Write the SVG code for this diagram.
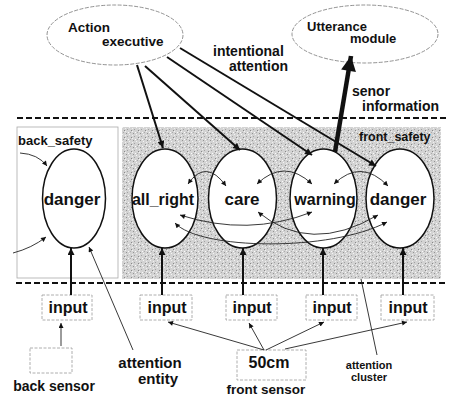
<svg xmlns="http://www.w3.org/2000/svg" width="449" height="399" viewBox="0 0 449 399">
<style>
text{font-family:"Liberation Sans",Arial,Helvetica,sans-serif;font-weight:bold;fill:#111}
.lbl{font-size:14px}
.nl{font-size:17px;text-anchor:middle}
.inp{font-size:16px;text-anchor:middle}
.box{fill:#fff;stroke:#9a9a9a;stroke-width:0.8;stroke-dasharray:3 1.5}
.top{fill:#fff;stroke:#777;stroke-width:0.8;stroke-dasharray:4 1.5}
.st{fill:#fff;stroke:#111;stroke-width:1.5}
.dash{stroke:#111;stroke-width:2;stroke-dasharray:6 3;fill:none}
.med{stroke:#111;stroke-width:2;fill:none}
.thin{stroke:#222;stroke-width:0.9;fill:none}
</style>
<defs>
<pattern id="stip" width="7" height="7" patternUnits="userSpaceOnUse">
<rect width="7" height="7" fill="#d3d3d3"/>
<rect x="0" y="0" width="1" height="1" fill="#929292"/>
<rect x="3" y="1" width="1" height="1" fill="#f4f4f4"/>
<rect x="1" y="3" width="1" height="1" fill="#a2a2a2"/>
<rect x="5" y="4" width="1" height="1" fill="#888"/>
<rect x="6" y="2" width="1" height="1" fill="#f0f0f0"/>
<rect x="2" y="6" width="1" height="1" fill="#fafafa"/>
<rect x="4" y="6" width="1" height="1" fill="#aaa"/>
<rect x="6" y="5" width="1" height="1" fill="#f2f2f2"/>
</pattern>
<marker id="am" viewBox="0 0 10 10" refX="10" refY="5" markerUnits="userSpaceOnUse" markerWidth="9" markerHeight="7" orient="auto-start-reverse"><path d="M0,0 L10,5 L0,10 z" fill="#111"/></marker>
<marker id="as" viewBox="0 0 10 10" refX="10" refY="5" markerUnits="userSpaceOnUse" markerWidth="7" markerHeight="5" orient="auto-start-reverse"><path d="M0,0 L10,5 L0,10 z" fill="#111"/></marker>
<marker id="ab" viewBox="0 0 10 10" refX="10" refY="5" markerUnits="userSpaceOnUse" markerWidth="26" markerHeight="15" orient="auto"><path d="M0,0 L10,5 L0,10 z" fill="#111"/></marker>
</defs>
<rect width="449" height="399" fill="#fff"/>

<g id="regions">
<rect x="122" y="127" width="319" height="152" fill="url(#stip)"/>
<rect x="17" y="127" width="101" height="151" fill="#fff" stroke="#aaa" stroke-width="0.8"/>
<line class="dash" x1="17" y1="118" x2="448" y2="118"/>
<line class="dash" x1="16" y1="283" x2="448" y2="283"/>
<text class="lbl" x="18" y="145" style="font-size:13px">back_safety</text>
<text class="lbl" x="359" y="141" style="font-size:12.5px">front_safety</text>
</g>

<g id="action-executive">
<ellipse class="top" cx="115" cy="35" rx="68" ry="30"/>
<text class="lbl" x="68" y="32" style="font-size:13.5px">Action</text>
<text class="lbl" x="102" y="46" style="font-size:13.5px">executive</text>
</g>

<g id="utterance-module">
<ellipse class="top" cx="365" cy="34" rx="73" ry="29"/>
<text class="lbl" x="307" y="31" style="font-size:13px">Utterance</text>
<text class="lbl" x="350" y="43" style="font-size:13px">module</text>
</g>

<g id="back-danger">
<ellipse class="st" cx="74" cy="198.5" rx="31.5" ry="49.5"/>
<text class="nl" x="72" y="205">danger</text>
</g>
<g id="all-right">
<ellipse class="st" cx="165" cy="198.5" rx="33" ry="49.5"/>
<text class="nl" x="163" y="205" style="font-size:16px">all_right</text>
</g>
<g id="care">
<ellipse class="st" cx="242.5" cy="198.5" rx="34" ry="49.5"/>
<text class="nl" x="242" y="205">care</text>
</g>
<g id="warning">
<ellipse class="st" cx="323.5" cy="198.5" rx="33.5" ry="49.5"/>
<text class="nl" x="325" y="205" style="font-size:16px">warning</text>
</g>
<g id="front-danger">
<ellipse class="st" cx="400" cy="198.5" rx="34" ry="49.5"/>
<text class="nl" x="398" y="205">danger</text>
</g>

<g id="inputs">
<rect class="box" x="42" y="295" width="50" height="25"/>
<text class="inp" x="68" y="313">input</text>
<rect class="box" x="140" y="295" width="52" height="25"/>
<text class="inp" x="167" y="313">input</text>
<rect class="box" x="226" y="295" width="51" height="25"/>
<text class="inp" x="252" y="313">input</text>
<rect class="box" x="306" y="295" width="51" height="25"/>
<text class="inp" x="332" y="313">input</text>
<rect class="box" x="381" y="295" width="53" height="25"/>
<text class="inp" x="408" y="313">input</text>
</g>

<g id="back-sensor">
<rect class="box" x="30" y="348" width="42" height="25"/>
<text class="lbl" x="54" y="391" text-anchor="middle">back sensor</text>
</g>
<g id="front-sensor">
<rect class="box" x="237" y="350" width="69" height="30"/>
<text class="inp" x="269" y="368">50cm</text>
<text class="lbl" x="266" y="394" text-anchor="middle" style="font-size:13.5px">front sensor</text>
</g>

<g id="connectors">
<line class="med" x1="137" y1="65" x2="163" y2="148" marker-end="url(#am)"/>
<line class="med" x1="145" y1="66" x2="240" y2="150" marker-end="url(#am)"/>
<line class="med" x1="167" y1="57" x2="312" y2="155" marker-end="url(#am)"/>
<line class="med" x1="180" y1="48" x2="376" y2="166" marker-end="url(#am)"/>
<line x1="335" y1="152" x2="351" y2="56" stroke="#111" stroke-width="4.5" marker-end="url(#ab)"/>

<line class="med" x1="71" y1="295" x2="71" y2="248" marker-end="url(#am)"/>
<line class="med" x1="162" y1="295" x2="162" y2="248" marker-end="url(#am)"/>
<line class="med" x1="243" y1="295" x2="243" y2="248" marker-end="url(#am)"/>
<line class="med" x1="323" y1="295" x2="323" y2="248" marker-end="url(#am)"/>
<line class="med" x1="403" y1="295" x2="403" y2="248" marker-end="url(#am)"/>

<path class="thin" d="M188,184 Q206,158 226,186" marker-start="url(#as)" marker-end="url(#as)"/>
<path class="thin" d="M257,184 Q284,158 312,184" marker-start="url(#as)" marker-end="url(#as)"/>
<path class="thin" d="M334,184 Q361,158 388,186" marker-start="url(#as)" marker-end="url(#as)"/>
<path class="thin" d="M180,215 Q248,237 312,212" marker-start="url(#as)" marker-end="url(#as)"/>
<path class="thin" d="M258,212 Q310,255 378,215" marker-start="url(#as)" marker-end="url(#as)"/>
<path class="thin" d="M175,223 C200,250 330,252 387,222" marker-start="url(#as)" marker-end="url(#as)"/>

<path class="thin" d="M20,153 Q38,154 47,166" marker-end="url(#as)"/>
<path class="thin" d="M13,253 Q32,248 46,237" marker-end="url(#as)"/>

<line class="thin" x1="61" y1="346" x2="61" y2="323" marker-end="url(#as)"/>
<line class="thin" x1="264" y1="350" x2="168" y2="322" marker-end="url(#as)"/>
<line class="thin" x1="264" y1="350" x2="249" y2="323" marker-end="url(#as)"/>
<line class="thin" x1="266" y1="350" x2="324" y2="322" marker-end="url(#as)"/>
<line class="thin" x1="285" y1="349" x2="407" y2="322" marker-end="url(#as)"/>

<line class="thin" x1="133" y1="350" x2="89" y2="247" marker-end="url(#as)"/>
<line class="thin" x1="377" y1="355" x2="361" y2="279"/>
</g>

<g id="labels">
<text class="lbl" x="213" y="56">intentional</text>
<text class="lbl" x="229" y="71">attention</text>
<text class="lbl" x="352" y="96">senor</text>
<text class="lbl" x="362" y="111">information</text>
<text class="lbl" x="150" y="368" text-anchor="middle" style="font-size:15px">attention</text>
<text class="lbl" x="158" y="384" text-anchor="middle" style="font-size:15px">entity</text>
<text class="lbl" x="369" y="369" text-anchor="middle" style="font-size:11px">attention</text>
<text class="lbl" x="369" y="381" text-anchor="middle" style="font-size:11px">cluster</text>
</g>
</svg>
